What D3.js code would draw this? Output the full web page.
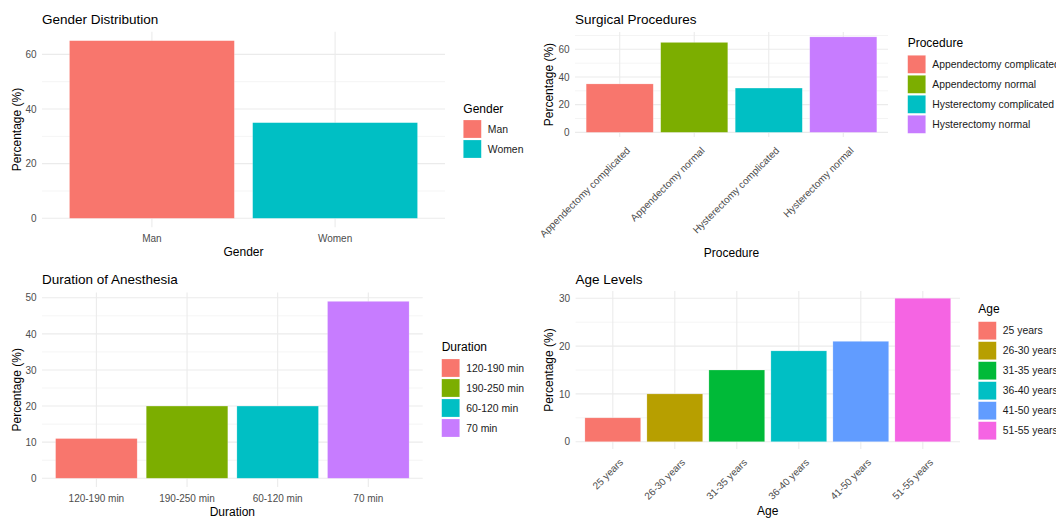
<!DOCTYPE html>
<html>
<head>
<meta charset="utf-8">
<script src="https://cdn.jsdelivr.net/npm/d3@7"></script>
<style>
  html, body { margin: 0; padding: 0; background: #fff; }
  svg { display: block; font-family: "Liberation Sans", Arial, sans-serif; }
</style>
</head>
<body>
<svg id="chart" width="1056" height="519"></svg>
<script>
// ---------------- DATA ----------------
const genderCats = ["Man", "Women"];
const genderVals = [65, 35];
const genderTicks = [0, 20, 40, 60];

const procCats = ["Appendectomy complicated", "Appendectomy normal", "Hysterectomy complicated", "Hysterectomy normal"];
const procVals = [35, 65, 32, 69];
const procTicks = [0, 20, 40, 60];

const durCats = ["120-190 min", "190-250 min", "60-120 min", "70 min"];
const durVals = [11, 20, 20, 49];
const durTicks = [0, 10, 20, 30, 40, 50];

const ageCats = ["25 years", "26-30 years", "31-35 years", "36-40 years", "41-50 years", "51-55 years"];
const ageVals = [5, 10, 15, 19, 21, 30];
const ageTicks = [0, 10, 20, 30];

const hue2 = ["#F8766D", "#00BFC4"];
const hue4 = ["#F8766D", "#7CAE00", "#00BFC4", "#C77CFF"];
const hue6 = ["#F8766D", "#B79F00", "#00BA38", "#00BFC4", "#619CFF", "#F564E3"];

// ---------------- LAYOUT ----------------
const svg = d3.select("#chart");
svg.append("rect").attr("width", 1056).attr("height", 519).attr("fill", "#fff");

const panels = [
  { title: "Gender Distribution", cats: genderCats, vals: genderVals, ticks: genderTicks, colors: hue2,
    xTitle: "Gender", legendTitle: "Gender",
    left: 42, right: 445, top: 31.8, bottom: 227.2, titleY: 24, rotate: false,
    tickLabelY: 242, xTitleY: 256, yTitleX: 21, legX: 463.3, legTitleY: 113, legKeyY: 120 },
  { title: "Surgical Procedures", cats: procCats, vals: procVals, ticks: procTicks, colors: hue4,
    xTitle: "Procedure", legendTitle: "Procedure",
    left: 575, right: 888, top: 32.1, bottom: 137.1, titleY: 24, rotate: true,
    xTitleY: 256.5, yTitleX: 553, legX: 907.7, legTitleY: 47, legKeyY: 55.3 },
  { title: "Duration of Anesthesia", cats: durCats, vals: durVals, ticks: durTicks, colors: hue4,
    xTitle: "Duration", legendTitle: "Duration",
    left: 42, right: 422.7, top: 292.5, bottom: 487.1, titleY: 284, rotate: false,
    tickLabelY: 502.3, xTitleY: 516, yTitleX: 21, legX: 441.7, legTitleY: 351, legKeyY: 359 },
  { title: "Age Levels", cats: ageCats, vals: ageVals, ticks: ageTicks, colors: hue6,
    xTitle: "Age", legendTitle: "Age",
    left: 575.6, right: 960, top: 291.1, bottom: 448.9, titleY: 284, rotate: true,
    xTitleY: 515, yTitleX: 553, legX: 978.3, legTitleY: 313, legKeyY: 321.7 }
];

const gridCol = "#EBEBEB";
const tickCol = "#4D4D4D";

panels.forEach(p => {
  const g = svg.append("g");
  const maxV = d3.max(p.vals);
  const y = d3.scaleLinear().domain([-0.05 * maxV, 1.05 * maxV]).range([p.bottom, p.top]);
  const x = d3.scaleBand().domain(p.cats).range([p.left, p.right]).paddingInner(0.1).paddingOuter(0.15);
  const color = d3.scaleOrdinal().domain(p.cats).range(p.colors);

  // minor gridlines (midpoints between major ticks, within domain)
  const step = p.ticks[1] - p.ticks[0];
  const minors = [];
  for (let i = 0; i < p.ticks.length; i++) {
    const m = p.ticks[i] + step / 2;
    if (m <= y.domain()[1]) minors.push(m);
  }
  g.selectAll(".minor").data(minors).enter().append("line")
    .attr("x1", p.left).attr("x2", p.right)
    .attr("y1", d => y(d)).attr("y2", d => y(d))
    .attr("stroke", gridCol).attr("stroke-width", 0.55);
  // major horizontal gridlines
  g.selectAll(".major").data(p.ticks).enter().append("line")
    .attr("x1", p.left).attr("x2", p.right)
    .attr("y1", d => y(d)).attr("y2", d => y(d))
    .attr("stroke", gridCol).attr("stroke-width", 1.1);
  // vertical gridlines
  g.selectAll(".vgrid").data(p.cats).enter().append("line")
    .attr("x1", d => x(d) + x.bandwidth() / 2).attr("x2", d => x(d) + x.bandwidth() / 2)
    .attr("y1", p.top).attr("y2", p.bottom)
    .attr("stroke", gridCol).attr("stroke-width", 1.1);

  // bars
  g.selectAll(".bar").data(p.cats).enter().append("rect")
    .attr("x", d => x(d))
    .attr("width", x.bandwidth())
    .attr("y", (d, i) => y(p.vals[i]))
    .attr("height", (d, i) => y(0) - y(p.vals[i]))
    .attr("fill", d => color(d))
    .attr("stroke", "#ffffff").attr("stroke-opacity", 0.35).attr("stroke-width", 0.6);

  // y axis (tick labels only)
  const yAxis = d3.axisLeft(y).tickValues(p.ticks).tickSize(0).tickPadding(5.5);
  const ya = g.append("g").attr("transform", `translate(${p.left},0)`).call(yAxis);
  ya.select(".domain").remove();
  ya.selectAll("text").attr("fill", tickCol).attr("font-size", 10)
    .attr("font-family", "'Liberation Sans', Arial, sans-serif");

  // x axis
  const xAxis = d3.axisBottom(x).tickSize(0);
  const xa = g.append("g").attr("transform", `translate(0,${p.bottom})`).call(xAxis);
  xa.select(".domain").remove();
  xa.selectAll("text").attr("fill", tickCol).attr("font-size", 10)
    .attr("font-family", "'Liberation Sans', Arial, sans-serif");
  if (p.rotate) {
    xa.selectAll("text")
      .attr("text-anchor", "end")
      .attr("y", 0).attr("dy", "0.72em")
      .attr("transform", "translate(6,9) rotate(-45)");
  } else {
    xa.selectAll("text").attr("y", p.tickLabelY - p.bottom).attr("dy", 0);
  }

  // titles
  g.append("text").attr("x", p.left).attr("y", p.titleY)
    .attr("font-size", 13.5).attr("fill", "#000").text(p.title);
  g.append("text").attr("x", (p.left + p.right) / 2).attr("y", p.xTitleY)
    .attr("text-anchor", "middle").attr("font-size", 12).attr("fill", "#000").text(p.xTitle);
  g.append("text")
    .attr("transform", `translate(${p.yTitleX},${(p.top + p.bottom) / 2}) rotate(-90)`)
    .attr("text-anchor", "middle").attr("font-size", 12).attr("fill", "#000").text("Percentage (%)");

  // legend
  const leg = g.append("g");
  leg.append("text").attr("x", p.legX).attr("y", p.legTitleY)
    .attr("font-size", 12).attr("fill", "#000").text(p.legendTitle);
  const items = leg.selectAll(".item").data(p.cats).enter().append("g")
    .attr("transform", (d, i) => `translate(${p.legX},${p.legKeyY + i * 20})`);
  items.append("rect").attr("width", 18).attr("height", 18).attr("fill", d => color(d))
    .attr("stroke", "#ffffff").attr("stroke-opacity", 0.35).attr("stroke-width", 0.6);
  items.append("text").attr("x", 24.5).attr("y", 9).attr("dy", "0.35em")
    .attr("font-size", 10.4).attr("fill", "#1a1a1a").text(d => d);
});
</script>
</body>
</html>
